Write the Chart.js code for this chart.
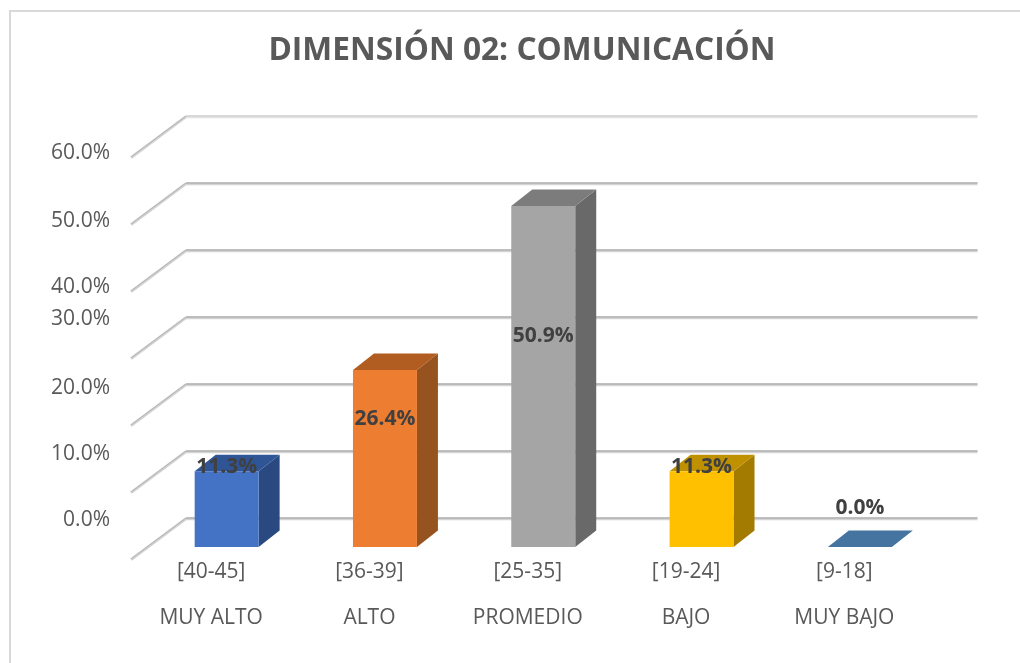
<!DOCTYPE html>
<html><head><meta charset="utf-8">
<style>html,body{margin:0;padding:0;background:#fff}canvas{display:block}
#w{width:1020px;height:663px;position:relative}</style>
<script src="https://cdn.jsdelivr.net/npm/chart.js@4"></script></head>
<body><div id="w"><canvas id="c"></canvas></div>
<script>
const ranges = ['[40-45]','[36-39]','[25-35]','[19-24]','[9-18]'];
const levels = ['MUY ALTO','ALTO','PROMEDIO','BAJO','MUY BAJO'];
const values = [11.3,26.4,50.9,11.3,0.0];
const frontColors = ['#4472C4','#ED7D31','#A5A5A5','#FFC000','#5B9BD5'];
const topColors = ['#2F5597','#B15D22','#7C7C7C','#BF9000','#44749F'];
const sideColors = ['#2A4980','#97531F','#696969','#A37B00','#3A6387'];
const yTickLabelShift = {0:-27,10:-26,20:-25,30:-27,40:8,50:9,60:8};
const dataLabelShift = [-4,49,130,-4,-39];
const FONT = '"Open Sans"';
const BAR_DX = 21, BAR_DY = 16.5;

function poly(ctx, pts, fill){
  ctx.beginPath(); pts.forEach((p,i)=> i?ctx.lineTo(p[0],p[1]):ctx.moveTo(p[0],p[1]));
  ctx.closePath(); ctx.fillStyle = fill; ctx.fill();
}
function line(ctx, pts, color, width, off){
  ctx.beginPath(); pts.forEach((p,i)=> i?ctx.lineTo(p[0],p[1]+off):ctx.moveTo(p[0],p[1]+off));
  ctx.strokeStyle=color; ctx.lineWidth=width; ctx.lineJoin='round'; ctx.stroke();
}
const walls3d = {
  id:'walls3d',
  beforeDatasetsDraw(chart){
    const {ctx, scales:{y}, chartArea:a} = chart;
    y.ticks.forEach(t=>{
      const py = y.getPixelForValue(t.value);
      const isTop = t.value === y.max;
      const side = [[a.left-16.5,py+12],[a.left+38.5,py-29]];
      const back = [[a.left+38.5,py-29],[a.right+38.5,py-29]];
      line(ctx,side,'#d2d2d2',3,0.6); line(ctx,side,'#b4b4b4',1,0);
      line(ctx,back,isTop?'#e3e3e3':'#d4d4d4',3,0.8);
      line(ctx,back,isTop?'#c9c9c9':'#a0a0a0',1.2,0);
    });
    chart.getDatasetMeta(0).data.forEach((b,i)=>{
      const l=b.x-b.width/2, r=b.x+b.width/2, t=b.y, bot=b.base;
      if (bot-t>0.5) poly(ctx,[[r,t],[r+BAR_DX,t-BAR_DY],[r+BAR_DX,bot-BAR_DY],[r,bot]],sideColors[i]);
      poly(ctx,[[l,t],[l+BAR_DX,t-BAR_DY],[r+BAR_DX,t-BAR_DY],[r,t]],topColors[i]);
    });
  },
  afterDatasetsDraw(chart){
    const {ctx, scales:{y}} = chart;
    ctx.save();
    ctx.textAlign='center'; ctx.textBaseline='middle';
    ctx.font='bold 21px '+FONT; ctx.fillStyle='#404040';
    chart.getDatasetMeta(0).data.forEach((b,i)=>{
      ctx.fillText(values[i].toFixed(1)+'%', b.x, b.y+dataLabelShift[i]);
    });
    ctx.font='21px '+FONT; ctx.fillStyle='#595959'; ctx.textAlign='right';
    y.ticks.forEach(t=>{
      ctx.fillText(t.value.toFixed(1)+'%',110,y.getPixelForValue(t.value)+yTickLabelShift[t.value]);
    });
    ctx.fillStyle='#d9d9d9';
    ctx.fillRect(9,10,1011,2); ctx.fillRect(9,10,2,653);
    ctx.restore();
  }
};
new Chart(document.getElementById('c'),{
  type:'bar',
  data:{labels:ranges.map((r,i)=>[r,levels[i]]),
    datasets:[{data:values,backgroundColor:frontColors,barPercentage:0.404,categoryPercentage:1,borderWidth:0}]},
  plugins:[walls3d],
  options:{
    responsive:true,maintainAspectRatio:false,animation:false,
    layout:{padding:{left:24,right:0,top:0,bottom:0}},
    plugins:{legend:{display:false},tooltip:{enabled:false},
      title:{display:true,text:'DIMENSIÓN 02: COMUNICACIÓN',color:'#595959',
        font:{family:FONT,size:31.7,weight:'bold',lineHeight:'40px'},
        padding:{top:31,bottom:74}}},
    scales:{
      x:{grid:{display:false},border:{display:false},
        afterFit(s){s.height=116;},
        ticks:{color:'#595959',labelOffset:-15.5,padding:-6,maxRotation:0,minRotation:0,autoSkip:false,
          font:{family:FONT,size:21,lineHeight:'46px'}}},
      y:{min:0,max:60,grid:{display:false},border:{display:false},
        afterFit(s){s.width=123.5;},
        ticks:{display:false,stepSize:10}},
      spacer:{position:'right',grid:{display:false},border:{display:false},
        afterFit(s){s.width=81;},
        ticks:{display:false}}
    }
  }
});
</script></body></html>
